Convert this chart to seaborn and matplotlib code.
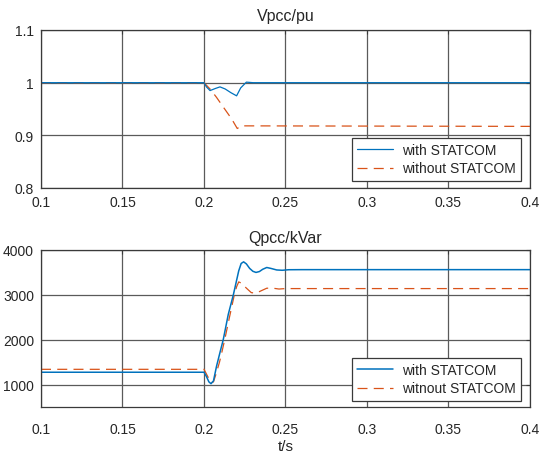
import matplotlib
matplotlib.use("Agg")
import matplotlib.pyplot as plt
import seaborn as sns
import pandas as pd

# ---- data ----
v_t_with = [0.1, 0.2, 0.2015, 0.2037, 0.207, 0.2098, 0.213, 0.2165, 0.2200, 0.2225, 0.226, 0.23, 0.4]
v_with = [1.0, 1.0, 0.992, 0.985, 0.989, 0.992, 0.988, 0.981, 0.975, 0.990, 1.001, 1.0, 1.0]

v_t_without = [0.1, 0.2, 0.2040, 0.2077, 0.2120, 0.2170, 0.2204, 0.2230, 0.4]
v_without = [1.0, 1.0, 0.987, 0.972, 0.953, 0.931, 0.913, 0.918, 0.917]

q_t_with = [0.1, 0.2, 0.2015, 0.203, 0.2043, 0.2058, 0.2077, 0.2098, 0.2118, 0.2149,
            0.218, 0.2213, 0.2228, 0.2243, 0.226, 0.228, 0.230, 0.2319, 0.234, 0.236,
            0.2385, 0.241, 0.2446, 0.248, 0.252, 0.26, 0.4]
q_with = [1275, 1275, 1180, 1060, 1020, 1080, 1410, 1715, 2000, 2566,
          3000, 3535, 3700, 3736, 3690, 3590, 3525, 3500, 3520, 3570,
          3610, 3590, 3555, 3548, 3560, 3562, 3562]

q_t_without = [0.1, 0.2, 0.202, 0.2043, 0.2058, 0.2075, 0.2095, 0.2112, 0.2127, 0.2155,
               0.2186, 0.2200, 0.2213, 0.223, 0.226, 0.229, 0.2319, 0.235, 0.2385,
               0.242, 0.246, 0.25, 0.4]
q_without = [1340, 1340, 1200, 1040, 1060, 1250, 1500, 1760, 2000, 2480,
             3000, 3180, 3289, 3260, 3150, 3050, 3036, 3090, 3148,
             3150, 3130, 3140, 3140]

x_ticks = [0.1, 0.15, 0.2, 0.25, 0.3, 0.35, 0.4]
x_labels = ["0.1", "0.15", "0.2", "0.25", "0.3", "0.35", "0.4"]
v_ticks = [0.8, 0.9, 1.0, 1.1]
v_labels = ["0.8", "0.9", "1", "1.1"]
q_ticks = [1000, 2000, 3000, 4000]
q_labels = ["1000", "2000", "3000", "4000"]

top_title = "Vpcc/pu"
bot_title = "Qpcc/kVar"
xlabel = "t/s"
leg_top = ["with STATCOM", "without STATCOM"]
leg_bot = ["with STATCOM", "witnout STATCOM"]

BLUE = "#0072BD"
RED = "#D95319"

sns.set_style("white")
plt.rcParams["font.family"] = ["Liberation Sans", "DejaVu Sans"]

fig = plt.figure(figsize=(5.43, 4.60), dpi=100)
ax1 = fig.add_axes([41 / 543, 1 - 189 / 460, 489 / 543, 158 / 460])
ax2 = fig.add_axes([41 / 543, 1 - 408 / 460, 489 / 543, 157 / 460])

def style(ax, xpad):
    ax.grid(True, color="#5a5a5a", linewidth=0.9)
    ax.set_axisbelow(True)
    for s in ax.spines.values():
        s.set_visible(True)
        s.set_color("#3a3a3a")
        s.set_linewidth(0.9)
    ax.tick_params(direction="in", length=3, width=0.8, colors="#3a3a3a",
                   labelcolor="#262626", labelsize=10, top=True, right=True, pad=5)
    ax.tick_params(axis="x", pad=xpad)
    ax.set_xlim(0.1, 0.4)
    ax.set_xticks(x_ticks)
    ax.set_xticklabels(x_labels)

# top panel
d1 = pd.DataFrame({"t": v_t_with, "v": v_with})
d2 = pd.DataFrame({"t": v_t_without, "v": v_without})
sns.lineplot(data=d2, x="t", y="v", ax=ax1, color=RED, linewidth=0.9,
             label=leg_top[1], estimator=None, sort=False)
sns.lineplot(data=d1, x="t", y="v", ax=ax1, color=BLUE, linewidth=0.9,
             label=leg_top[0], estimator=None, sort=False)
ax1.lines[0].set_dashes([8, 5])
style(ax1, 5)
ax1.set_ylim(0.8, 1.1)
ax1.set_yticks(v_ticks)
ax1.set_yticklabels(v_labels)
ax1.set_xlabel("")
ax1.set_ylabel("")
ax1.set_title(top_title, fontsize=11.5, color="#262626", pad=7)

# bottom panel
d3 = pd.DataFrame({"t": q_t_with, "q": q_with})
d4 = pd.DataFrame({"t": q_t_without, "q": q_without})
sns.lineplot(data=d4, x="t", y="q", ax=ax2, color=RED, linewidth=0.9,
             label=leg_bot[1], estimator=None, sort=False)
sns.lineplot(data=d3, x="t", y="q", ax=ax2, color=BLUE, linewidth=1.1,
             label=leg_bot[0], estimator=None, sort=False)
ax2.lines[0].set_dashes([8, 5])
style(ax2, 11)
ax2.set_ylim(500, 4000)
ax2.set_yticks(q_ticks)
ax2.set_yticklabels(q_labels)
ax2.set_ylabel("")
ax2.set_xlabel(xlabel, fontsize=11, color="#262626", labelpad=2)
ax2.set_title(bot_title, fontsize=11.5, color="#262626", pad=6)

def legend(ax, labels, y):
    h, l = ax.get_legend_handles_labels()
    order = [l.index(labels[0]), l.index(labels[1])]
    lg = ax.legend([h[i] for i in order], [l[i] for i in order], loc="lower right",
                   bbox_to_anchor=(0.9816, y), fontsize=10, frameon=True,
                   fancybox=False, framealpha=1, edgecolor="#3a3a3a",
                   handlelength=2.6, handletextpad=0.6, borderpad=0.4,
                   labelspacing=0.3, borderaxespad=0)
    lg.get_frame().set_linewidth(0.9)
    for t in lg.get_texts():
        t.set_color("#262626")

legend(ax1, leg_top, 0.0443)
legend(ax2, leg_bot, 0.038)

fig.savefig("out.png", dpi=100)
